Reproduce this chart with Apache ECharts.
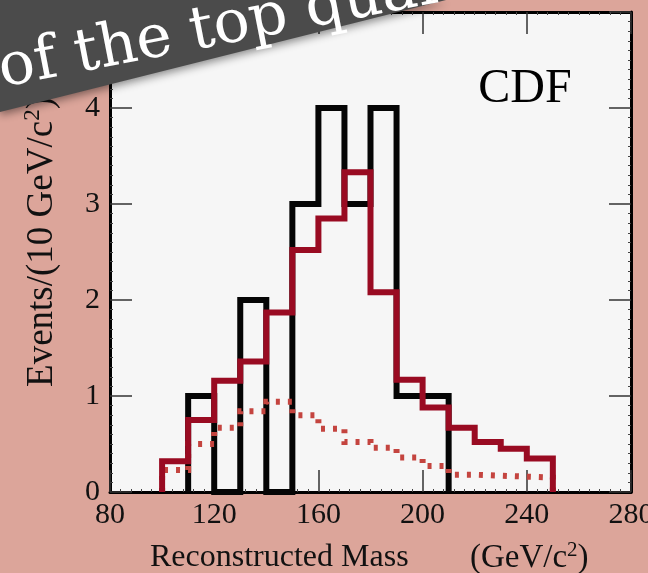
<!DOCTYPE html>
<html><head><meta charset="utf-8">
<script src="https://cdn.jsdelivr.net/npm/echarts@6/dist/echarts.min.js"></script>
<style>html,body{margin:0;padding:0;background:#dca59a}#c{width:648px;height:573px}</style>
</head><body><div id="c"></div>
<script>
// ---- data ----
const binWidth = 10;
const observedStart = 110;
const observed = [1, 0, 2, 0, 3, 4, 3, 4, 1, 1];
const combinedStart = 100;
const combined = [0.32, 0.75, 1.16, 1.36, 1.87, 2.52, 2.85, 3.33, 2.08, 1.17, 0.88, 0.67, 0.52, 0.45, 0.35];
const backgroundStart = 100;
const background = [0.23, 0.5, 0.67, 0.84, 0.94, 0.8, 0.66, 0.52, 0.46, 0.36, 0.27, 0.18, 0.17, 0.16, 0.15];
const xTicks = [80, 120, 160, 200, 240, 280];
const yTicks = [0, 1, 2, 3, 4, 5];

function steps(start, width, vals) {
  const pts = [[start, 0]];
  vals.forEach((v, i) => { pts.push([start + i * width, v]); pts.push([start + (i + 1) * width, v]); });
  pts.push([start + vals.length * width, 0]);
  return pts;
}

const serif = 'Liberation Serif';
const chart = echarts.init(document.getElementById('c'), null, {renderer: 'canvas'});

function xAx(pos, showLabel) {
  return {
    type: 'value', position: pos, min: xTicks[0], max: xTicks[xTicks.length - 1],
    interval: xTicks[1] - xTicks[0],
    axisLine: {show: true, onZero: false, lineStyle: {color: '#000', width: 3}},
    axisTick: {show: true, inside: true, length: 22, lineStyle: {color: '#333', width: 1.5}},
    minorTick: {show: true, splitNumber: 10, length: 3, lineStyle: {color: '#444', width: 1}},
    axisLabel: {show: showLabel, fontFamily: serif, fontSize: 30, color: '#111', margin: 8, hideOverlap: false},
    splitLine: {show: false}
  };
}
function yAx(pos, showLabel) {
  return {
    type: 'value', position: pos, min: yTicks[0], max: yTicks[yTicks.length - 1],
    interval: yTicks[1] - yTicks[0],
    axisLine: {show: true, onZero: false, lineStyle: {color: '#000', width: 3}},
    axisTick: {show: true, inside: true, length: 22, lineStyle: {color: '#333', width: 1.5}},
    minorTick: {show: true, splitNumber: 10, length: 3, lineStyle: {color: '#444', width: 1}},
    axisLabel: {show: showLabel, showMaxLabel: false, fontFamily: serif, fontSize: 30, color: '#111', margin: 10},
    splitLine: {show: false}
  };
}

const option = {
  backgroundColor: '#dca59a',
  animation: false,
  grid: {left: 110, right: 17, top: 12, bottom: 81, show: true, backgroundColor: '#f6f6f6', borderWidth: 0,
         containLabel: false, outerBoundsMode: 'none'},
  xAxis: [xAx('bottom', true), xAx('top', false)],
  yAxis: [yAx('left', true), yAx('right', false)],
  series: [
    {type: 'line', name: 'Observed', data: steps(observedStart, binWidth, observed), symbol: 'none', z: 3,
     lineStyle: {color: '#050505', width: 6, join: 'miter'}},
    {type: 'line', name: 'Background', data: steps(backgroundStart, binWidth, background), symbol: 'none', z: 4,
     lineStyle: {color: '#c4443f', width: 6, type: [4, 8], join: 'miter'}},
    {type: 'line', name: 'Signal+Background', data: steps(combinedStart, binWidth, combined), symbol: 'none', z: 5,
     lineStyle: {color: '#990b22', width: 6, join: 'miter'}}
  ],
  graphic: [
    {type: 'text', x: 525, y: 89, z: 50,
     style: {text: 'CDF', fontFamily: serif, fontSize: 48, fill: '#000', align: 'center', verticalAlign: 'middle'}},
    {type: 'text', x: 42, y: 242, rotation: Math.PI / 2, z: 50,
     style: {text: '{a|Events/(10 GeV/c}{s|2}{a|)}', align: 'center', verticalAlign: 'middle',
       rich: {a: {fontFamily: serif, fontSize: 37, fill: '#111'}, s: {fontFamily: serif, fontSize: 23, fill: '#111', padding: [0, 0, 18, 0]}}}},
    {type: 'text', x: 150, y: 558, z: 50,
     style: {text: 'Reconstructed Mass', fontFamily: serif, fontSize: 32, fill: '#111', align: 'left', verticalAlign: 'middle'}},
    {type: 'text', x: 470, y: 558, z: 50,
     style: {text: '{a|(GeV/c}{s|2}{a|)}', align: 'left', verticalAlign: 'middle',
       rich: {a: {fontFamily: serif, fontSize: 33, fill: '#111'}, s: {fontFamily: serif, fontSize: 21, fill: '#111', padding: [0, 0, 16, 0]}}}},
    {type: 'polygon', z: 100,
     shape: {points: [[0, 0], [446, 0], [0, 112]]},
     style: {fill: '#4b4b4b', shadowBlur: 8, shadowColor: 'rgba(0,0,0,0.45)', shadowOffsetY: 3}},
    {type: 'text', x: 5, y: 101, rotation: 11 * Math.PI / 180, z: 101,
     style: {text: 'of the top quark', fontFamily: 'DejaVu Serif', fontSize: 60, fill: '#ffffff', align: 'left', verticalAlign: 'bottom'}}
  ]
};
chart.setOption(option);
</script>
</body></html>
